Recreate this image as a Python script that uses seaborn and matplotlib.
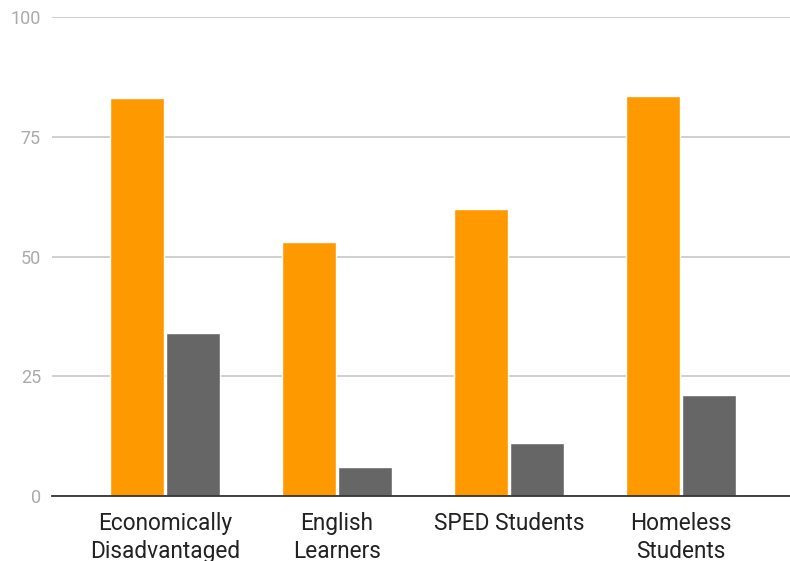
import numpy as np
import pandas as pd
import matplotlib
matplotlib.use("Agg")
import matplotlib.pyplot as plt
import seaborn as sns

# data
categories = ["Economically\nDisadvantaged", "English\nLearners", "SPED Students", "Homeless\nStudents"]
series_names = ["Series A", "Series B"]
orange_vals = [83, 53, 60, 83.5]
gray_vals = [34, 6, 11, 21]
yticks = [0, 25, 50, 75, 100]

df = pd.DataFrame({
    "category": categories * 2,
    "series": [series_names[0]] * 4 + [series_names[1]] * 4,
    "value": orange_vals + gray_vals,
})

sns.set_style("white")
plt.rcParams["font.family"] = ["Roboto", "DejaVu Sans"]

fig = plt.figure(figsize=(7.9, 5.61), dpi=100)
ax = fig.add_axes([52 / 790, 65 / 561, 738 / 790, 479 / 561])

sns.barplot(data=df, x="category", y="value", hue="series",
            palette=["#ff9900", "#666666"], width=0.655, gap=0.04,
            saturation=1, legend=False, ax=ax)

ax.set_ylim(0, 100)
ax.set_xlim(-0.657, 3.634)
ax.set_yticks(yticks)
ax.set_yticklabels([str(t) for t in yticks], color="#aaaaaa", fontsize=13)
ax.tick_params(axis="y", length=0, pad=8)
ax.tick_params(axis="x", length=0, pad=11.5, labelsize=16.3, labelcolor="#222222")
for lab in ax.get_xticklabels():
    lab.set_linespacing(1.3)
ax.set_xlabel("")
ax.set_ylabel("")
ax.set_axisbelow(True)
ax.yaxis.grid(True, color="#cccccc", linewidth=1.3)
for s in ["top", "right", "left"]:
    ax.spines[s].set_visible(False)
ax.spines["bottom"].set_color("#333333")
ax.spines["bottom"].set_linewidth(1.3)

fig.savefig("out.png", dpi=100)
